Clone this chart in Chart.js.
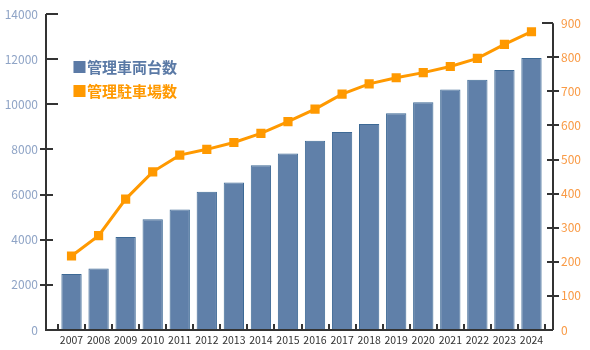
<!DOCTYPE html>
<html lang="ja">
<head>
<meta charset="utf-8">
<script src="https://cdn.jsdelivr.net/npm/chart.js@4.4.1/dist/chart.umd.min.js"></script>
<style>
  html, body { margin: 0; padding: 0; background: #fff; }
  #fleetChart { display: block; }
</style>
</head>
<body>
<canvas id="fleetChart" width="590" height="350"></canvas>
<script>
// 年度
const years = ['2007', '2008', '2009', '2010', '2011', '2012', '2013', '2014', '2015',
               '2016', '2017', '2018', '2019', '2020', '2021', '2022', '2023', '2024'];

// 管理車両台数 (左軸)
const vehicleCounts = [2480, 2730, 4120, 4910, 5340, 6120, 6530, 7300, 7820,
                       8380, 8770, 9130, 9600, 10090, 10650, 11090, 11520, 12050];

// 管理駐車場数 (右軸)
const parkingCounts = [217, 277, 384, 464, 513, 530, 550, 577, 611,
                       648, 692, 722, 740, 755, 773, 797, 838, 875];

const leftTicks = [0, 2000, 4000, 6000, 8000, 10000, 12000, 14000];
const rightTicks = [0, 100, 200, 300, 400, 500, 600, 700, 800, 900];

const BLUE = '#6080a9';
const ORANGE = '#ff9900';
const FONT = '"Noto Sans CJK JP", "Noto Sans", sans-serif';

// 軸線と目盛りは手で描く（ラベルだけChart.jsに任せる）
const axisLines = {
    id: 'axisLines',
    afterDatasetsDraw(chart) {
        const { ctx, chartArea, scales } = chart;
        const y = scales.y, y1 = scales.y1, x = scales.x;
        const leftX = chartArea.left - 12;
        const rightX = chartArea.right + 8;
        const base = chartArea.bottom;

        ctx.save();
        ctx.strokeStyle = '#333';
        ctx.lineWidth = 2;
        ctx.beginPath();
        // 左軸
        ctx.moveTo(leftX, y.getPixelForValue(14000));
        ctx.lineTo(leftX, base);
        // 底辺
        ctx.lineTo(rightX, base);
        // 右軸
        ctx.moveTo(rightX, base);
        ctx.lineTo(rightX, y1.getPixelForValue(900));
        ctx.stroke();

        ctx.beginPath();
        leftTicks.forEach(v => {
            if (v === 0) return;
            const py = Math.round(y.getPixelForValue(v));
            if (v >= 10000) {
                ctx.moveTo(leftX, py); ctx.lineTo(leftX + 12, py);
            } else {
                ctx.moveTo(leftX - 6, py); ctx.lineTo(leftX + 7, py);
            }
        });
        rightTicks.forEach(v => {
            if (v === 0) return;
            const py = Math.round(y1.getPixelForValue(v));
            if (v === 900) {
                ctx.moveTo(rightX - 11, py); ctx.lineTo(rightX, py);
            } else {
                ctx.moveTo(rightX - 6, py); ctx.lineTo(rightX + 6, py);
            }
        });
        // 年度の区切り
        const step = x.getPixelForValue(1) - x.getPixelForValue(0);
        for (let i = 0; i <= years.length; i++) {
            const px = Math.round(x.getPixelForValue(0) - step / 2 + i * step);
            ctx.moveTo(px, base);
            ctx.lineTo(px, base - 6);
        }
        ctx.stroke();
        ctx.restore();
    }
};

// 凡例（グラフ内左上）
const insideLegend = {
    id: 'insideLegend',
    afterDraw(chart) {
        const { ctx } = chart;
        ctx.save();
        ctx.font = 'bold 15px ' + FONT;
        ctx.textBaseline = 'middle';
        ctx.textAlign = 'left';
        chart.data.datasets
            .slice()
            .sort((a, b) => a.legendRow - b.legendRow)
            .forEach((ds, i) => {
                ctx.fillStyle = ds.legendColor;
                ctx.fillText('■' + ds.label, 72, 67 + i * 24);
            });
        ctx.restore();
    }
};

// 目盛り線は描かず、tickLength はラベルの間隔としてだけ使う
const hiddenGrid = len => ({ display: false, drawTicks: true, tickLength: len });

new Chart(document.getElementById('fleetChart'), {
    data: {
        labels: years,
        datasets: [
            {
                type: 'line',
                label: '管理駐車場数',
                legendRow: 1,
                legendColor: ORANGE,
                data: parkingCounts,
                yAxisID: 'y1',
                order: 0,
                borderColor: ORANGE,
                backgroundColor: ORANGE,
                borderWidth: 3,
                pointStyle: 'rect',
                pointRadius: 6.5,
                pointBorderWidth: 0,
                tension: 0
            },
            {
                type: 'bar',
                label: '管理車両台数',
                legendRow: 0,
                legendColor: '#5b7aa6',
                data: vehicleCounts,
                yAxisID: 'y',
                order: 1,
                backgroundColor: BLUE,
                borderColor: '#3d6995',
                borderWidth: 1,
                barPercentage: 0.75,
                categoryPercentage: 1
            }
        ]
    },
    options: {
        responsive: false,
        animation: false,
        devicePixelRatio: 1,
        layout: { padding: { top: 14 } },
        plugins: {
            legend: { display: false },
            tooltip: { enabled: false }
        },
        scales: {
            x: {
                offset: true,
                grid: hiddenGrid(4),
                border: { display: false },
                ticks: {
                    color: '#333',
                    font: { family: FONT, size: 10.5 },
                    padding: 0,
                    maxRotation: 0,
                    autoSkip: false
                },
                afterFit(scale) { scale.height = 20; }
            },
            y: {
                position: 'left',
                min: 0,
                max: 14000,
                grid: hiddenGrid(20),
                border: { display: false },
                ticks: {
                    stepSize: 2000,
                    color: '#8fa4c6',
                    font: { family: FONT, size: 12 },
                    padding: 0,
                    callback: v => String(v)
                },
                afterFit(scale) { scale.width = 58; }
            },
            y1: {
                position: 'right',
                min: 0,
                max: 927,
                grid: hiddenGrid(16),
                border: { display: false },
                ticks: {
                    color: '#f99a45',
                    font: { family: FONT, size: 12 },
                    padding: 0,
                    callback: v => String(v)
                },
                afterBuildTicks(scale) {
                    scale.ticks = rightTicks.map(v => ({ value: v }));
                },
                afterFit(scale) { scale.width = 45; }
            }
        }
    },
    plugins: [axisLines, insideLegend]
});
</script>
</body>
</html>
